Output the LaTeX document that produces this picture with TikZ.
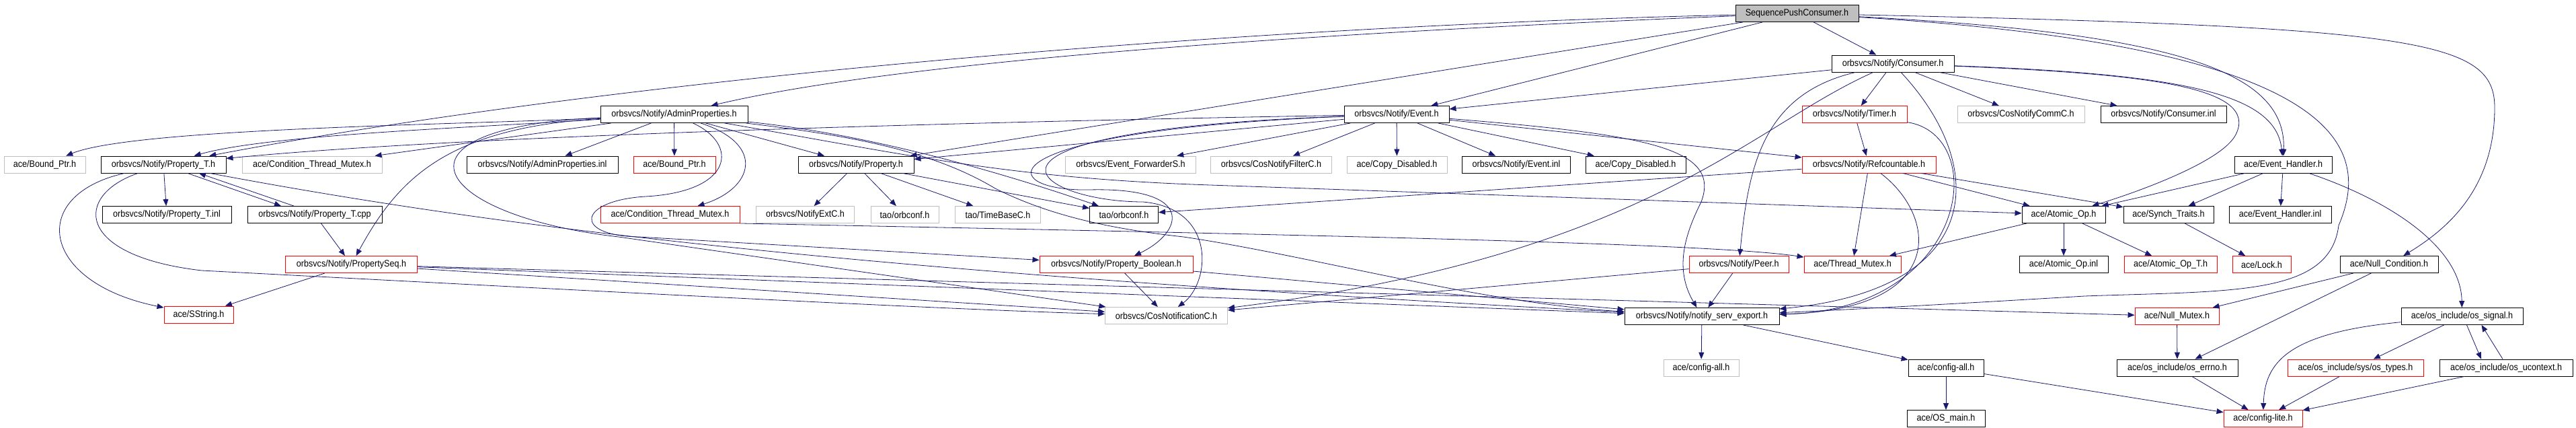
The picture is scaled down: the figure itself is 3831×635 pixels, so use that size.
\documentclass[tikz,border=0pt]{standalone}
\usepackage{fontspec}
\setmainfont{Liberation Sans}[FakeStretch=0.9]
\usetikzlibrary{arrows.meta}
\definecolor{greybox}{HTML}{BFBFBF}
\definecolor{navyline}{HTML}{191970}
\begin{document}
\begin{tikzpicture}[x=1pt, y=-1pt,
	file/.style = {draw, rectangle, line width=0.9pt, minimum height=25pt, inner sep=0pt, font=\fontsize{14}{16}\selectfont},
	docd/.style = {file, draw=black},
	undoc/.style = {file, draw=greybox},
	trunc/.style = {file, draw=red},
	root/.style = {file, draw=black, fill=greybox},
	dep/.style = {draw=navyline, line width=0.8pt, -{Triangle[length=10pt,width=8pt]}}]
	\useasboundingbox (0,0) rectangle (3831,635);
	% top
	\node[root, minimum width=183] (spc) at (2672.5,20) {SequencePushConsumer.h};
	\node[docd, minimum width=182] (consumer) at (2815,94.5) {orbsvcs/Notify/Consumer.h};
	\node[docd, minimum width=219] (admin) at (1002.5,170) {orbsvcs/Notify/AdminProperties.h};
	\node[docd, minimum width=156] (event) at (2077,170) {orbsvcs/Notify/Event.h};
	\node[trunc, minimum width=156] (timer) at (2758,170) {orbsvcs/Notify/Timer.h};
	\node[undoc, minimum width=189] (commc) at (3005.5,170) {orbsvcs/CosNotifyCommC.h};
	\node[docd, minimum width=187] (consinl) at (3217.5,170) {orbsvcs/Notify/Consumer.inl};
	% second row
	\node[undoc, minimum width=121] (bptrg) at (66.5,244.5) {ace/Bound\_Ptr.h};
	\node[docd, minimum width=186] (propt) at (243,244.5) {orbsvcs/Notify/Property\_T.h};
	\node[undoc, minimum width=208] (condg) at (464,244.5) {ace/Condition\_Thread\_Mutex.h};
	\node[docd, minimum width=225] (admininl) at (806.5,244.5) {orbsvcs/Notify/AdminProperties.inl};
	\node[trunc, minimum width=122] (bptrr) at (1003,244.5) {ace/Bound\_Ptr.h};
	\node[docd, minimum width=172] (property) at (1273,244.5) {orbsvcs/Notify/Property.h};
	\node[undoc, minimum width=194] (fwd) at (1681.5,244.5) {orbsvcs/Event\_ForwarderS.h};
	\node[undoc, minimum width=180] (filter) at (1890.5,244.5) {orbsvcs/CosNotifyFilterC.h};
	\node[undoc, minimum width=149] (copyg) at (2077.5,244.5) {ace/Copy\_Disabled.h};
	\node[docd, minimum width=161] (eventinl) at (2255,244.5) {orbsvcs/Notify/Event.inl};
	\node[docd, minimum width=149] (copyb) at (2432.5,244.5) {ace/Copy\_Disabled.h};
	\node[trunc, minimum width=199] (refcount) at (2779.5,244.5) {orbsvcs/Notify/Refcountable.h};
	\node[docd, minimum width=145] (evh) at (3395.5,244.5) {ace/Event\_Handler.h};
	% third row
	\node[docd, minimum width=192] (proptinl) at (248,319) {orbsvcs/Notify/Property\_T.inl};
	\node[docd, minimum width=200] (proptcpp) at (468,319) {orbsvcs/Notify/Property\_T.cpp};
	\node[trunc, minimum width=207] (condr) at (996.5,319) {ace/Condition\_Thread\_Mutex.h};
	\node[undoc, minimum width=146] (extc) at (1197.5,319) {orbsvcs/NotifyExtC.h};
	\node[undoc, minimum width=101] (orbconfg) at (1345.5,319) {tao/orbconf.h};
	\node[undoc, minimum width=127] (timebase) at (1484,319) {tao/TimeBaseC.h};
	\node[docd, minimum width=102] (orbconfb) at (1671.5,319) {tao/orbconf.h};
	\node[docd, minimum width=124] (atomic) at (3069,319) {ace/Atomic\_Op.h};
	\node[docd, minimum width=134] (synch) at (3225,319) {ace/Synch\_Traits.h};
	\node[docd, minimum width=152] (evhinl) at (3391,319) {ace/Event\_Handler.inl};
	% fourth row
	\node[trunc, minimum width=196] (propseq) at (522.5,393) {orbsvcs/Notify/PropertySeq.h};
	\node[trunc, minimum width=228] (propbool) at (1660,393) {orbsvcs/Notify/Property\_Boolean.h};
	\node[trunc, minimum width=148] (peer) at (2586,393) {orbsvcs/Notify/Peer.h};
	\node[trunc, minimum width=144] (tmutex) at (2755,393) {ace/Thread\_Mutex.h};
	\node[docd, minimum width=132] (atomicinl) at (3069,393) {ace/Atomic\_Op.inl};
	\node[trunc, minimum width=138] (atomict) at (3228,393) {ace/Atomic\_Op\_T.h};
	\node[trunc, minimum width=87] (lock) at (3363.5,393) {ace/Lock.h};
	\node[docd, minimum width=146] (nullcond) at (3553,393) {ace/Null\_Condition.h};
	% fifth row
	\node[trunc, minimum width=103] (sstring) at (295.5,467.5) {ace/SString.h};
	\node[undoc, minimum width=182] (cosnotif) at (1734.5,469) {orbsvcs/CosNotificationC.h};
	\node[docd, minimum width=230] (nse) at (2531,470) {orbsvcs/Notify/notify\_serv\_export.h};
	\node[trunc, minimum width=125] (nullmutex) at (3237.5,470) {ace/Null\_Mutex.h};
	\node[docd, minimum width=181] (signal) at (3661.5,470) {ace/os\_include/os\_signal.h};
	% bottom
	\node[undoc, minimum width=112] (cfgallg) at (2530,546.5) {ace/config-all.h};
	\node[docd, minimum width=112] (cfgallb) at (2894,546.5) {ace/config-all.h};
	\node[docd, minimum width=180] (errno) at (3238,546.5) {ace/os\_include/os\_errno.h};
	\node[trunc, minimum width=202] (ostypes) at (3503,546.5) {ace/os\_include/sys/os\_types.h};
	\node[docd, minimum width=198] (ucontext) at (3727,546.5) {ace/os\_include/os\_ucontext.h};
	\node[docd, minimum width=116] (osmain) at (2894,622) {ace/OS\_main.h};
	\node[trunc, minimum width=117] (cfglite) at (3365.5,622) {ace/config-lite.h};
	% root
	\draw[dep] (spc) .. controls (1800,55) and (1300,100) .. (admin);
	\draw[dep] (spc) .. controls (1800,40) and (900,120) .. (propt);
	\draw[dep] (spc) -- (property);
	\draw[dep] (spc) -- (event);
	\draw[dep] (spc) -- (consumer);
	\draw[dep] (spc) .. controls (3250,50) and (3400,110) .. (evh);
	\draw[dep] (spc) .. controls (3500,70) and (3525,225) .. (3478,335) .. controls (3465,440) and (3320,432) .. (3100,440) .. controls (2900,452) and (2750,460) .. (nse);
	\draw[dep] (spc) .. controls (3600,40) and (3710,60) .. (3710,160) .. controls (3710,280) and (3640,340) .. (nullcond);
	% consumer
	\draw[dep] (consumer) -- (event);
	\draw[dep] (consumer) -- (timer);
	\draw[dep] (consumer) -- (commc);
	\draw[dep] (consumer) -- (consinl);
	\draw[dep] (consumer) .. controls (3250,110) and (3385,140) .. (evh);
	\draw[dep] (consumer) .. controls (3200,110) and (3360,130) .. (3325,200) .. controls (3305,240) and (3180,285) .. (atomic);
	\draw[dep] (consumer) .. controls (2960,250) and (2950,430) .. (nse);
	\draw[dep] (consumer) .. controls (2620,140) and (2600,250) .. (peer);
	\draw[dep] (consumer) .. controls (2600,190) and (2450,380) .. (cosnotif);
	% event
	\draw[dep] (event) -- (fwd);
	\draw[dep] (event) -- (filter);
	\draw[dep] (event) -- (copyg);
	\draw[dep] (event) -- (eventinl);
	\draw[dep] (event) -- (copyb);
	\draw[dep] (event) -- (refcount);
	\draw[dep] (event) -- (property);
	\draw[dep] (event) .. controls (1500,180) and (700,200) .. (propt);
	\draw[dep] (event) .. controls (1450,195) and (1480,285) .. (1620,282) .. controls (1780,278) and (1760,345) .. (propbool);
	\draw[dep] (event) .. controls (1380,195) and (1540,300) .. (1700,300) .. controls (1810,310) and (1800,420) .. (cosnotif);
	\draw[dep] (event) .. controls (2450,200) and (2560,220) .. (2530,300) .. controls (2505,350) and (2490,400) .. (nse);
	% admin properties
	\draw[dep] (admin) .. controls (700,185) and (200,190) .. (bptrg);
	\draw[dep] (admin) .. controls (700,190) and (400,200) .. (propt);
	\draw[dep] (admin) -- (condg);
	\draw[dep] (admin) -- (admininl);
	\draw[dep] (admin) -- (bptrr);
	\draw[dep] (admin) -- (property);
	\draw[dep] (admin) .. controls (1140,215) and (1120,280) .. (condr);
	\draw[dep] (admin) .. controls (660,190) and (590,270) .. (propseq);
	\draw[dep] (admin) .. controls (1100,215) and (1090,285) .. (960,292) .. controls (860,298) and (850,350) .. (950,352) -- (propbool);
	\draw[dep] (admin) .. controls (560,190) and (640,320) .. (920,352) -- (cosnotif);
	\draw[dep] (admin) .. controls (1250,200) and (1380,220) .. (1480,280) .. controls (1560,320) and (1650,340) .. (1760,352) .. controls (1950,380) and (2200,450) .. (nse);
	\draw[dep] (admin) .. controls (1300,200) and (1500,260) .. (orbconfb);
	\draw[dep] (admin) .. controls (1350,230) and (1500,265) .. (1800,275) -- (atomic);
	% property
	\draw[dep] (property) -- (extc);
	\draw[dep] (property) -- (orbconfg);
	\draw[dep] (property) -- (timebase);
	\draw[dep] (property) -- (orbconfb);
	% property template
	\draw[dep] (propt) -- (proptinl);
	\draw[dep] ([xshift=36pt]propt.south) -- ([xshift=-50pt]proptcpp.north);
	\draw[dep] ([xshift=-31pt]proptcpp.north) -- ([xshift=53pt]propt.south);
	\draw[dep] (propt) .. controls (40,290) and (60,420) .. (sstring);
	\draw[dep] (propt) .. controls (110,290) and (110,380) .. (300,402) .. controls (800,428) and (1400,460) .. (cosnotif);
	\draw[dep] (propt) .. controls (700,330) and (1200,400) .. (nse);
	\draw[dep] (proptcpp) -- (propseq);
	\draw[dep] (propseq) -- (sstring);
	\draw[dep] (propseq) -- (cosnotif);
	\draw[dep] (propseq) -- (nse);
	\draw[dep] (propseq) -- (nullmutex);
	\draw[dep] (propbool) -- (cosnotif);
	\draw[dep] (propbool) -- (nse);
	\draw[dep] (condr.south east) .. controls (2000,350) and (2550,362) .. (tmutex);
	\draw[dep] (peer) -- (cosnotif);
	\draw[dep] (peer) -- (nse);
	% timer, refcountable
	\draw[dep] (timer) -- (refcount);
	\draw[dep] (timer) .. controls (2960,200) and (2930,460) .. (nse);
	\draw[dep] (refcount) -- (tmutex);
	\draw[dep] (refcount) -- (atomic);
	\draw[dep] (refcount) -- (synch);
	\draw[dep] (refcount) -- (orbconfb);
	\draw[dep] (refcount) .. controls (2880,320) and (2900,460) .. (nse);
	% ace
	\draw[dep] (evh) -- (atomic);
	\draw[dep] (evh) -- (synch);
	\draw[dep] (evh) -- (evhinl);
	\draw[dep] (evh) .. controls (3560,300) and (3660,370) .. (signal);
	\draw[dep] (atomic) -- (tmutex);
	\draw[dep] (atomic) -- (atomicinl);
	\draw[dep] (atomic) -- (atomict);
	\draw[dep] (synch) -- (lock);
	\draw[dep] (nullcond) -- (nullmutex);
	\draw[dep] (nullcond) -- (errno);
	\draw[dep] (nullmutex) -- (errno);
	\draw[dep] (nse) -- (cfgallg);
	\draw[dep] (nse) -- (cfgallb);
	\draw[dep] (cfgallb) -- (osmain);
	\draw[dep] (cfgallb) -- (cfglite);
	\draw[dep] (errno) -- (cfglite);
	\draw[dep] (signal) .. controls (3400,495) and (3368,540) .. (cfglite);
	\draw[dep] (signal) -- (ostypes);
	\draw[dep] ([xshift=7pt]signal.south) -- ([xshift=-37pt]ucontext.north);
	\draw[dep] ([xshift=-5pt]ucontext.north) -- ([xshift=29pt]signal.south);
	\draw[dep] (ostypes) -- (cfglite);
	\draw[dep] (ucontext) -- (cfglite);
\end{tikzpicture}
\end{document}
